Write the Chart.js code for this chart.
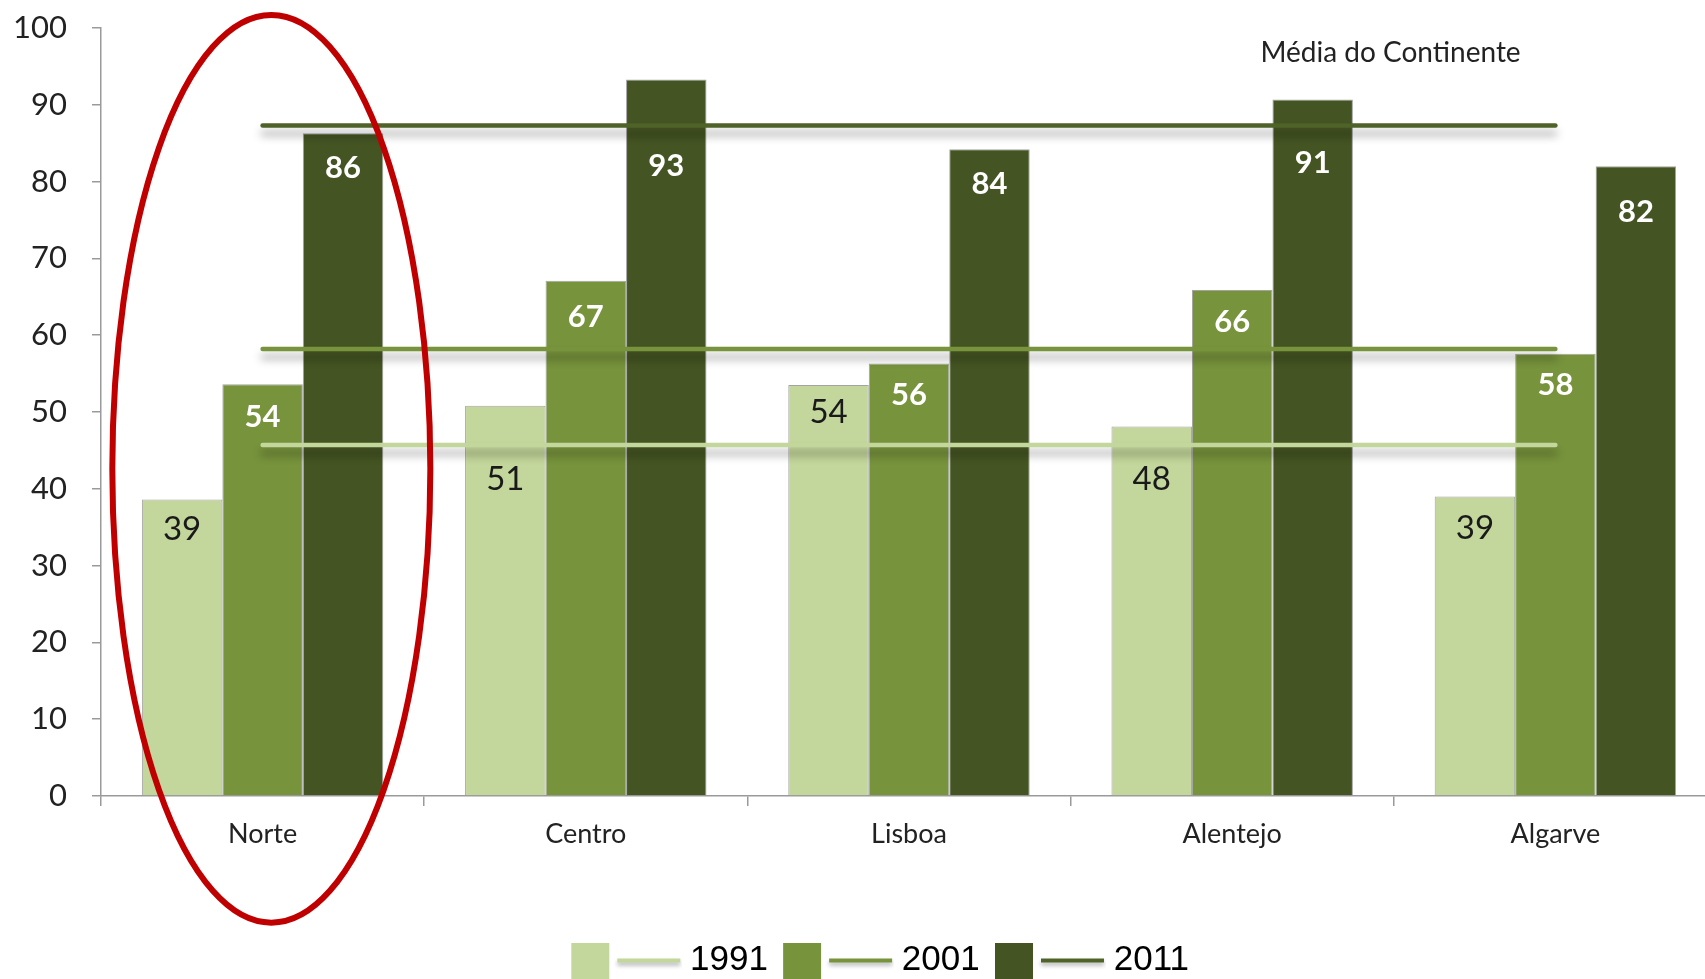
<!DOCTYPE html>
<html lang="pt">
<head>
<meta charset="utf-8">
<title>Média do Continente</title>
<script src="https://cdn.jsdelivr.net/npm/chart.js@4/dist/chart.umd.min.js"></script>
<style>
  html, body { margin: 0; padding: 0; background: #fff; overflow: hidden; }
  canvas { display: block; }
</style>
</head>
<body>
<canvas id="grafica" width="1725" height="979"></canvas>
<script>
// Regiões e anos
const regioes = ['Norte', 'Centro', 'Lisboa', 'Alentejo', 'Algarve'];
const anos = ['1991', '2001', '2011'];

// Valores por ano (barras)
const valores1991 = [38.6, 50.8, 53.5, 48.1, 39.0];
const valores2001 = [53.6, 67.1, 56.3, 65.9, 57.6];
const valores2011 = [86.3, 93.3, 84.2, 90.7, 82.0];

// Média do Continente (linhas horizontais)
const media1991 = [45.7, 45.7, 45.7, 45.7, 45.7];
const media2001 = [58.2, 58.2, 58.2, 58.2, 58.2];
const media2011 = [87.3, 87.3, 87.3, 87.3, 87.3];

const yTicks = [0, 10, 20, 30, 40, 50, 60, 70, 80, 90, 100];

const cores = ['#C3D69B', '#77933C', '#445422'];
const coresLinha = ['#C3D69B', '#77933C', '#4F6228'];

// distância (px) do rótulo ao topo da barra, para fugir das linhas
const deslocRotulos = [
    [30, 74, 27, 53, 32],
    [33, 36, 31, 32, 31],
    [35, 87, 35, 64, 46]
];

const fonte = 'Lato, "Liberation Sans", sans-serif';

// Ícone da legenda: quadrado + traço
function iconeLegenda(corBarra, corLinha) {
    const c = document.createElement('canvas');
    c.width = 136;
    c.height = 40;
    const g = c.getContext('2d');
    g.fillStyle = corBarra;
    g.fillRect(25, 1, 38, 38);
    g.save();
    g.shadowColor = 'rgba(0,0,0,0.3)';
    g.shadowBlur = 4;
    g.shadowOffsetY = 3;
    g.strokeStyle = corLinha;
    g.lineWidth = 4;
    g.beginPath();
    g.moveTo(71, 20);
    g.lineTo(134, 20);
    g.stroke();
    g.restore();
    return c;
}
const icones = anos.map((a, i) => iconeLegenda(cores[i], coresLinha[i]));

// Sombra nas linhas da média
const sombraLinhas = {
    id: 'sombraLinhas',
    beforeDatasetDraw(chart, args) {
        if (args.meta.type === 'line') {
            const ctx = chart.ctx;
            ctx.save();
            ctx.shadowColor = 'rgba(0,0,0,0.35)';
            ctx.shadowBlur = 9;
            ctx.shadowOffsetY = 8;
        }
    },
    afterDatasetDraw(chart, args) {
        if (args.meta.type === 'line') chart.ctx.restore();
    }
};

// empurra a legenda um pouco para a direita
const moverLegenda = {
    id: 'moverLegenda',
    afterLayout(chart) {
        if (chart.legend) {
            chart.legend.left += 8;
            chart.legend.right += 8;
        }
    }
};

// Rótulos de valores, texto e elipse vermelha
const extras = {
    id: 'extras',
    afterDatasetsDraw(chart) {
        const ctx = chart.ctx;
        ctx.save();
        ctx.textAlign = 'center';
        ctx.textBaseline = 'middle';
        chart.data.datasets.forEach((ds, i) => {
            if (ds.type === 'line') return;
            const meta = chart.getDatasetMeta(i);
            meta.data.forEach((bar, j) => {
                if (ds.anoIdx === 0) {
                    ctx.font = '33px ' + fonte;
                    ctx.fillStyle = '#1a1a1a';
                } else {
                    ctx.font = 'bold 31px ' + fonte;
                    ctx.fillStyle = '#ffffff';
                }
                ctx.fillText(String(Math.round(ds.data[j])), bar.x, bar.y + deslocRotulos[ds.anoIdx][j]);
            });
        });

        const x = chart.scales.x;
        const y = chart.scales.y;

        // "Média do Continente"
        ctx.font = '28px ' + fonte;
        ctx.fillStyle = '#222';
        ctx.fillText('Média do Continente', x.getPixelForValue(3.49), y.getPixelForValue(96.8));

        // elipse à volta do Norte
        const larg = x.getPixelForValue(1) - x.getPixelForValue(0);
        const cx = x.getPixelForValue(0) + larg * 0.027;
        const yTop = y.getPixelForValue(101.7);
        const yBot = y.getPixelForValue(-16.5);
        ctx.beginPath();
        ctx.ellipse(cx, (yTop + yBot) / 2, larg * 0.492, (yBot - yTop) / 2, 0, 0, Math.PI * 2);
        ctx.strokeStyle = '#C00000';
        ctx.lineWidth = 6;
        ctx.stroke();
        ctx.restore();
    }
};

const linha = (dados, i) => ({
    type: 'line',
    label: 'Média ' + anos[i],
    data: dados,
    borderColor: coresLinha[i],
    borderWidth: 4.5,
    borderCapStyle: 'round',
    pointRadius: 0,
    fill: false,
    order: 0
});

const barra = (dados, i) => ({
    type: 'bar',
    label: anos[i],
    anoIdx: i,
    data: dados,
    backgroundColor: cores[i],
    borderColor: 'rgba(140,140,140,0.8)',
    borderWidth: 1,
    order: 1
});

new Chart(document.getElementById('grafica'), {
    data: {
        labels: regioes,
        datasets: [
            linha(media1991, 0), linha(media2001, 1), linha(media2011, 2),
            barra(valores1991, 0), barra(valores2001, 1), barra(valores2011, 2)
        ]
    },
    options: {
        responsive: false,
        animation: false,
        datasets: {
            bar: { categoryPercentage: 0.747, barPercentage: 1.0 }
        },
        layout: { padding: { left: 12, right: 8, top: 28, bottom: 0 } },
        plugins: {
            tooltip: { enabled: false },
            legend: {
                position: 'bottom',
                maxHeight: 36,
                labels: {
                    usePointStyle: true,
                    pointStyleWidth: 116.5,
                    padding: 0,
                    color: '#1a1a1a',
                    font: { family: '"Liberation Sans", sans-serif', size: 35 },
                    generateLabels: () => anos.map((a, i) => ({
                        text: a,
                        pointStyle: icones[i],
                        fillStyle: cores[i],
                        strokeStyle: cores[i],
                        lineWidth: 0,
                        hidden: false,
                        datasetIndex: 3 + i
                    }))
                }
            }
        },
        scales: {
            x: {
                afterFit: (s) => { s.height = 147; },
                grid: { drawOnChartArea: false, tickLength: 10, color: '#9a9a9a', lineWidth: 1.5 },
                border: { display: true, color: '#9a9a9a', width: 1.5 },
                ticks: { color: '#222', padding: 12, font: { family: fonte, size: 27 } }
            },
            y: {
                min: 0,
                max: 100,
                afterFit: (s) => { s.width = 89; s.paddingTop = 0; s.paddingBottom = 0; },
                afterBuildTicks: (s) => { s.ticks = yTicks.map(v => ({ value: v })); },
                grid: { drawOnChartArea: false, tickLength: 9, color: '#9a9a9a', lineWidth: 1.5 },
                border: { display: true, color: '#9a9a9a', width: 1.5 },
                ticks: { color: '#222', padding: 25, font: { family: fonte, size: 31 } }
            }
        }
    },
    plugins: [sombraLinhas, moverLegenda, extras]
});
</script>
</body>
</html>
